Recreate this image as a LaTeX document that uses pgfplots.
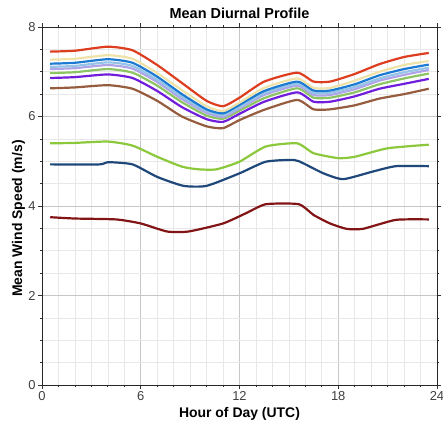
\documentclass[border=0pt]{standalone}
\usepackage{pgfplots}
\pgfplotsset{compat=1.18}
\usepackage{fontspec}
\setmainfont{Liberation Sans}

\definecolor{cRed}{RGB}{222,62,32}
\definecolor{cBeige}{RGB}{238,226,168}
\definecolor{cBlue}{RGB}{28,122,210}
\definecolor{cLtBlue}{RGB}{150,196,232}
\definecolor{cLav}{RGB}{176,164,232}
\definecolor{cGreen}{RGB}{140,196,100}
\definecolor{cPurple}{RGB}{112,30,220}
\definecolor{cBrown}{RGB}{150,92,62}
\definecolor{cLGreen}{RGB}{140,200,60}
\definecolor{cDBlue}{RGB}{30,72,122}
\definecolor{cDRed}{RGB}{130,20,22}

\begin{document}
\begin{tikzpicture}
\path[use as bounding box] (-42bp,-41bp) rectangle (401bp,385bp);
\begin{axis}[
  at={(0,0)}, anchor=south west,
  scale only axis,
  width=395bp, height=358bp,
  xmin=0, xmax=24, ymin=0, ymax=8,
  xtick={0,6,12,18,24}, ytick={0,2,4,6,8},
  minor x tick num=5, minor y tick num=3,
  grid=both,
  major grid style={draw=black!22, line width=0.8bp},
  minor grid style={draw=black!9, line width=0.6bp},
  axis line style={draw=black!85, line width=1bp},
  tick align=outside,
  major tick length=4bp, minor tick length=2bp,
  tick style={draw=black!80, line width=0.7bp},
  /pgf/number format/assume math mode=true,
  tick label style={font=\fontsize{13}{15}\selectfont, text=black!75},
  xticklabel style={yshift=1bp},
  yticklabel style={xshift=1bp},
  title={Mean Diurnal Profile},
  title style={font=\bfseries\fontsize{14.5}{17}\selectfont, at={(axis description cs:0.5,1)}, anchor=south, inner sep=2bp},
  xlabel={Hour of Day (UTC)},
  xlabel style={font=\bfseries\fontsize{14}{16}\selectfont, at={(axis description cs:0.5,0)}, anchor=center, yshift=-29bp},
  ylabel={Mean Wind Speed (m/s)},
  ylabel style={font=\bfseries\fontsize{14}{16}\selectfont, at={(axis description cs:0,0.465)}, anchor=center, yshift=23.5bp},
  every axis plot/.append style={line width=2.2bp, line join=round, no markers, smooth, tension=0.35},
]
% top group
\addplot[cBrown] coordinates {(0.5,6.63) (2,6.65) (4,6.70) (5.5,6.62) (7,6.35) (8.5,6.00) (10,5.78) (11,5.74) (12,5.92) (13.5,6.15) (15.5,6.37) (16.5,6.16) (17.5,6.16) (19,6.25) (20.5,6.40) (22,6.50) (23.5,6.62)};
\addplot[cPurple] coordinates {(0.5,6.86) (2,6.88) (4,6.94) (5.5,6.86) (7,6.57) (8.5,6.21) (10,5.94) (11,5.88) (12,6.06) (13.5,6.33) (15.5,6.54) (16.5,6.33) (17.5,6.33) (19,6.45) (20.5,6.62) (22,6.73) (23.5,6.84)};
\addplot[cGreen] coordinates {(0.5,6.97) (2,6.99) (4,7.06) (5.5,6.98) (7,6.69) (8.5,6.32) (10,6.02) (11,5.95) (12,6.13) (13.5,6.41) (15.5,6.63) (16.5,6.42) (17.5,6.42) (19,6.54) (20.5,6.72) (22,6.85) (23.5,6.96)};
\addplot[cLav] coordinates {(0.5,7.06) (2,7.08) (4,7.15) (5.5,7.07) (7,6.77) (8.5,6.39) (10,6.08) (11,5.99) (12,6.18) (13.5,6.48) (15.5,6.69) (16.5,6.48) (17.5,6.48) (19,6.61) (20.5,6.80) (22,6.93) (23.5,7.04)};
\addplot[cLtBlue] coordinates {(0.5,7.11) (2,7.13) (4,7.21) (5.5,7.13) (7,6.82) (8.5,6.44) (10,6.12) (11,6.03) (12,6.21) (13.5,6.52) (15.5,6.73) (16.5,6.53) (17.5,6.53) (19,6.66) (20.5,6.85) (22,6.99) (23.5,7.09)};
\addplot[cBlue] coordinates {(0.5,7.18) (2,7.20) (4,7.28) (5.5,7.20) (7,6.89) (8.5,6.50) (10,6.16) (11,6.07) (12,6.26) (13.5,6.57) (15.5,6.78) (16.5,6.58) (17.5,6.58) (19,6.72) (20.5,6.92) (22,7.06) (23.5,7.16)};
\addplot[cBeige] coordinates {(0.5,7.27) (2,7.29) (4,7.37) (5.5,7.29) (7,6.97) (8.5,6.59) (10,6.23) (11,6.12) (12,6.31) (13.5,6.64) (15.5,6.85) (16.5,6.64) (17.5,6.64) (19,6.80) (20.5,7.00) (22,7.15) (23.5,7.24)};
\addplot[cRed] coordinates {(0.5,7.45) (2,7.47) (4,7.56) (5.5,7.48) (7,7.15) (8.5,6.75) (10,6.35) (11,6.23) (12,6.42) (13.5,6.78) (15.5,6.98) (16.5,6.78) (17.5,6.78) (19,6.95) (20.5,7.17) (22,7.33) (23.5,7.42)};
% lower group
\addplot[cLGreen] coordinates {(0.5,5.40) (2,5.41) (4,5.44) (5.5,5.35) (7,5.10) (8.5,4.88) (9.5,4.82) (10.6,4.82) (12,4.99) (13.6,5.33) (15.5,5.40) (16.5,5.18) (18,5.07) (19,5.10) (21,5.29) (23.5,5.37)};
\addplot[cDBlue] coordinates {(0.5,4.93) (3.5,4.93) (4,4.98) (5.5,4.93) (7,4.65) (8.6,4.45) (10,4.45) (12,4.73) (13.6,4.99) (15.3,5.03) (15.9,4.95) (17.1,4.73) (18.3,4.60) (20.1,4.77) (21.5,4.89) (23.5,4.89)};
\addplot[cDRed] coordinates {(0.5,3.75) (2,3.72) (4.5,3.70) (6,3.61) (7.6,3.43) (8.9,3.43) (11,3.61) (12.4,3.84) (13.6,4.04) (15.6,4.04) (16.5,3.80) (17.5,3.61) (18.5,3.49) (19.5,3.49) (21.5,3.69) (23.5,3.70)};
\end{axis}
\end{tikzpicture}
\end{document}
